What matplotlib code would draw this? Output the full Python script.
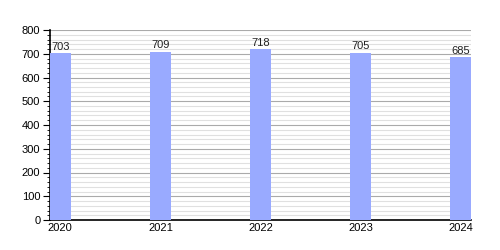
import numpy as np
from matplotlib import pyplot as plt
from matplotlib.ticker import MultipleLocator

plt.rcParams["font.family"] = ["Liberation Sans", "DejaVu Sans"]

# data
years = ["2020", "2021", "2022", "2023", "2024"]
values = [703, 709, 718, 705, 685]

fig = plt.figure(figsize=(5, 2.5), dpi=100)
ax = fig.add_axes([0.1, 0.12, 0.842, 0.76])

x = np.arange(len(years))
bw = 0.205
ax.bar(x, values, width=bw, align="edge", color="#99aaff", zorder=3)

for xi, v in zip(x, values):
    ax.text(xi + bw / 2, v + 6, str(v), ha="center", va="bottom", fontsize=8, color="#222222")

ax.set_xlim(0, 4 + bw)
ax.set_ylim(0, 800)
ax.set_xticks(x + bw / 2)
ax.set_xticklabels(years, fontsize=8)
ax.tick_params(axis="x", length=0, pad=2)

ax.yaxis.set_major_locator(MultipleLocator(100))
ax.yaxis.set_minor_locator(MultipleLocator(20))
ax.tick_params(axis="y", which="major", length=5, labelsize=8, pad=2)
ax.tick_params(axis="y", which="minor", length=2.5)
ax.grid(axis="y", which="major", color="#aaaaaa", linewidth=0.8, zorder=1)
ax.grid(axis="y", which="minor", color="#e0e0e0", linewidth=0.8, zorder=1)

for s in ["top", "right"]:
    ax.spines[s].set_visible(False)
ax.spines["left"].set_linewidth(1.2)
ax.spines["bottom"].set_linewidth(1.2)

fig.savefig("out.png")
